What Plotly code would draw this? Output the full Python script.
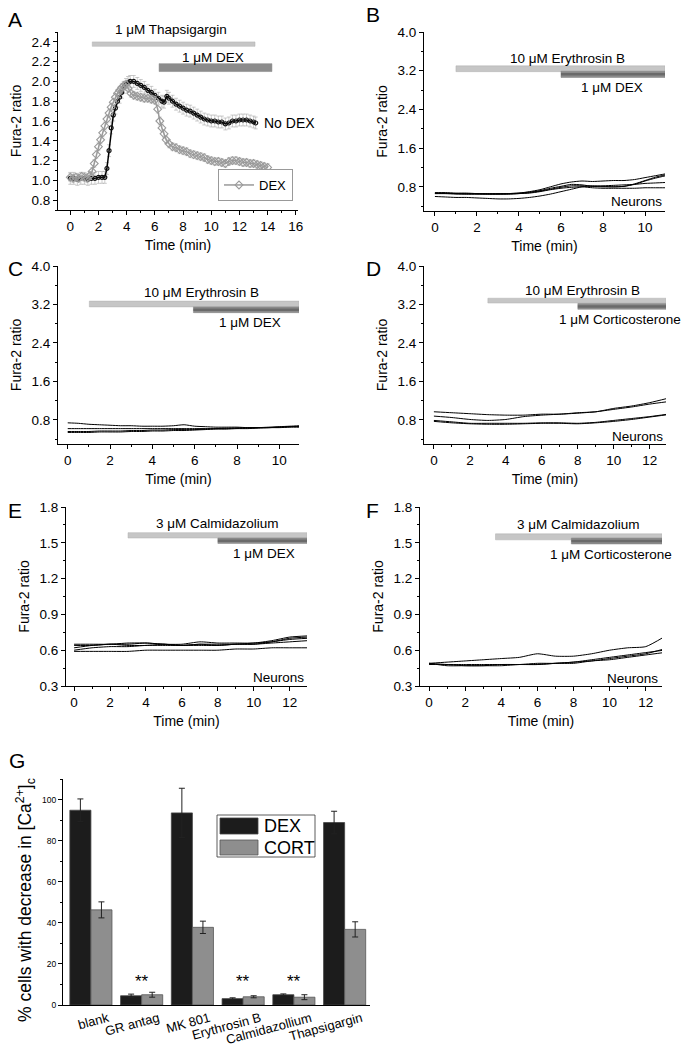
import plotly.graph_objects as go

W, H = 687, 1048
FONT = "Liberation Sans, Arial, sans-serif"

# ---------------- data ----------------
# Panel A
a_nodex_t = [0, 0.25, 0.5, 0.75, 1.0, 1.25, 1.5, 1.75, 2.0, 2.25, 2.45, 2.6, 2.75, 2.9, 3.05, 3.2, 3.35, 3.5, 3.65, 3.8,
             3.95, 4.1, 4.25, 4.5, 4.75, 5.0, 5.25, 5.5, 5.75, 6.0, 6.25, 6.5, 6.65, 6.85, 7.0, 7.25, 7.5, 7.75, 8.0, 8.25,
             8.5, 8.75, 9.0, 9.25, 9.5, 9.75, 10.0, 10.25, 10.5, 10.75, 11.0, 11.25, 11.5, 11.75, 12.0, 12.25, 12.5, 12.75, 13.0, 13.15]
a_nodex_v = [1.02, 1.02, 1.01, 1.02, 1.02, 1.01, 1.02, 1.02, 1.03, 1.03, 1.03, 1.12, 1.30, 1.53, 1.66, 1.73, 1.80, 1.84, 1.89, 1.94,
             1.97, 1.99, 2.00, 2.00, 1.98, 1.96, 1.94, 1.91, 1.89, 1.86, 1.83, 1.80, 1.79, 1.85, 1.83, 1.80, 1.77, 1.75, 1.73, 1.71,
             1.70, 1.68, 1.66, 1.64, 1.62, 1.61, 1.60, 1.60, 1.59, 1.59, 1.57, 1.58, 1.60, 1.60, 1.61, 1.61, 1.61, 1.60, 1.59, 1.58]
a_dex_t = [0, 0.2, 0.4, 0.6, 0.8, 1.0, 1.2, 1.4, 1.55, 1.7, 1.85, 2.0, 2.15, 2.3, 2.45, 2.6, 2.75, 2.9, 3.05, 3.2,
           3.35, 3.5, 3.65, 3.8, 3.95, 4.1, 4.3, 4.5, 4.75, 5.0, 5.25, 5.5, 5.75, 6.0, 6.2, 6.35, 6.5, 6.65, 6.8, 7.0,
           7.25, 7.5, 7.75, 8.0, 8.25, 8.5, 8.75, 9.0, 9.25, 9.5, 9.75, 10.0, 10.25, 10.5, 10.75, 11.0, 11.25, 11.5, 11.75, 12.0,
           12.25, 12.5, 12.75, 13.0, 13.25, 13.5, 13.75, 14.0]
a_dex_v = [1.03, 1.02, 1.03, 1.02, 1.04, 1.03, 1.02, 1.05, 1.09, 1.17, 1.26, 1.34, 1.41, 1.48, 1.55, 1.62, 1.68, 1.74, 1.79, 1.84,
           1.88, 1.91, 1.94, 1.96, 1.97, 1.93, 1.88, 1.86, 1.85, 1.84, 1.83, 1.83, 1.82, 1.81, 1.72, 1.60, 1.53, 1.47, 1.41, 1.37,
           1.34, 1.33, 1.31, 1.30, 1.29, 1.27, 1.26, 1.25, 1.24, 1.23, 1.21, 1.20, 1.19, 1.19, 1.18, 1.17, 1.19, 1.20, 1.20, 1.19,
           1.18, 1.18, 1.17, 1.17, 1.16, 1.15, 1.14, 1.13]
a_nodex_err = 0.06
a_dex_err = 0.04

# Panel B (neurons, Erythrosin B + DEX)
b_t = [0, 0.5, 1, 1.5, 2, 2.5, 3, 3.5, 4, 4.5, 5, 5.5, 6, 6.5, 7, 7.5, 8, 8.5, 9, 9.5, 10, 10.5, 11]
b_lines = [
    [0.68, 0.68, 0.67, 0.67, 0.66, 0.66, 0.66, 0.66, 0.67, 0.70, 0.74, 0.80, 0.86, 0.90, 0.92, 0.91, 0.92, 0.93, 0.93, 0.95, 0.99, 1.03, 1.07],
    [0.67, 0.67, 0.66, 0.66, 0.66, 0.65, 0.65, 0.66, 0.67, 0.69, 0.72, 0.77, 0.81, 0.85, 0.84, 0.81, 0.80, 0.80, 0.81, 0.86, 0.93, 1.00, 1.05],
    [0.66, 0.66, 0.66, 0.65, 0.65, 0.65, 0.65, 0.65, 0.66, 0.68, 0.71, 0.75, 0.79, 0.82, 0.82, 0.81, 0.82, 0.83, 0.84, 0.85, 0.87, 0.88, 0.89],
    [0.66, 0.66, 0.65, 0.65, 0.65, 0.65, 0.65, 0.65, 0.66, 0.67, 0.70, 0.74, 0.77, 0.79, 0.80, 0.78, 0.77, 0.77, 0.77, 0.77, 0.78, 0.78, 0.78],
    [0.60, 0.59, 0.58, 0.58, 0.57, 0.56, 0.55, 0.55, 0.56, 0.58, 0.61, 0.65, 0.70, 0.75, 0.80, 0.82, 0.81, 0.80, 0.81, 0.85, 0.92, 0.98, 1.03],
]

# Panel C (astrocytes)
c_t = b_t
c_lines = [
    [0.74, 0.73, 0.71, 0.70, 0.69, 0.68, 0.68, 0.67, 0.67, 0.67, 0.68, 0.70, 0.67, 0.66, 0.65, 0.65, 0.65, 0.64, 0.64, 0.64, 0.65, 0.66, 0.67],
    [0.62, 0.62, 0.62, 0.62, 0.62, 0.62, 0.62, 0.62, 0.62, 0.62, 0.62, 0.62, 0.62, 0.62, 0.62, 0.63, 0.63, 0.63, 0.64, 0.64, 0.65, 0.66, 0.66],
    [0.56, 0.56, 0.56, 0.57, 0.57, 0.57, 0.58, 0.58, 0.59, 0.59, 0.60, 0.60, 0.60, 0.61, 0.62, 0.62, 0.63, 0.64, 0.64, 0.65, 0.66, 0.67, 0.68],
    [0.54, 0.54, 0.54, 0.55, 0.55, 0.55, 0.56, 0.56, 0.57, 0.57, 0.58, 0.58, 0.59, 0.60, 0.61, 0.61, 0.62, 0.62, 0.63, 0.64, 0.64, 0.65, 0.65],
]

# Panel D (neurons, Erythrosin B + corticosterone)
d_t = [0, 1, 2, 3, 4, 5, 6, 7, 8, 9, 10, 11, 12, 13]
d_lines = [
    [0.97, 0.95, 0.93, 0.91, 0.90, 0.90, 0.92, 0.92, 0.95, 0.97, 1.04, 1.09, 1.16, 1.25],
    [0.88, 0.85, 0.81, 0.79, 0.81, 0.87, 0.90, 0.92, 0.94, 0.97, 1.02, 1.07, 1.13, 1.18],
    [0.79, 0.76, 0.73, 0.73, 0.73, 0.73, 0.74, 0.74, 0.73, 0.75, 0.79, 0.83, 0.87, 0.92],
    [0.77, 0.74, 0.72, 0.71, 0.71, 0.72, 0.73, 0.73, 0.72, 0.74, 0.77, 0.81, 0.86, 0.91],
]

# Panel E (neurons, calmidazolium + DEX)
e_t = d_t
e_lines = [
    [0.65, 0.65, 0.65, 0.66, 0.66, 0.65, 0.65, 0.67, 0.66, 0.66, 0.66, 0.68, 0.71, 0.72],
    [0.64, 0.64, 0.65, 0.65, 0.66, 0.65, 0.64, 0.65, 0.65, 0.65, 0.66, 0.67, 0.70, 0.71],
    [0.62, 0.64, 0.65, 0.64, 0.64, 0.65, 0.64, 0.65, 0.64, 0.65, 0.65, 0.67, 0.69, 0.70],
    [0.60, 0.62, 0.63, 0.63, 0.64, 0.64, 0.64, 0.64, 0.64, 0.65, 0.65, 0.66, 0.67, 0.68],
    [0.59, 0.59, 0.59, 0.59, 0.60, 0.60, 0.60, 0.60, 0.60, 0.61, 0.61, 0.62, 0.62, 0.62],
]

# Panel F (neurons, calmidazolium + corticosterone)
f_t = d_t
f_lines = [
    [0.49, 0.50, 0.51, 0.52, 0.53, 0.54, 0.57, 0.55, 0.55, 0.57, 0.60, 0.62, 0.63, 0.71],
    [0.49, 0.48, 0.48, 0.48, 0.48, 0.48, 0.49, 0.49, 0.50, 0.51, 0.53, 0.55, 0.57, 0.61],
    [0.48, 0.48, 0.47, 0.47, 0.48, 0.48, 0.48, 0.49, 0.50, 0.52, 0.54, 0.56, 0.58, 0.60],
    [0.49, 0.47, 0.47, 0.47, 0.47, 0.48, 0.48, 0.49, 0.49, 0.51, 0.52, 0.54, 0.56, 0.58],
]

# Panel G
g_categories = ["blank", "GR antag", "MK 801", "Erythrosin B", "Calmidazollium", "Thapsigargin"]
g_dex = [94.8, 4.5, 93.5, 3.1, 5.0, 88.8]
g_dex_err = [5.5, 0.8, 12.0, 0.4, 0.4, 5.5]
g_cort = [46.3, 5.0, 37.8, 4.0, 3.8, 36.8]
g_cort_err = [3.9, 1.2, 3.0, 0.5, 1.2, 3.7]
g_sig = ["GR antag", "Erythrosin B", "Calmidazollium"]

# ---------------- helpers ----------------
def dom_x(a, b):
    return [a / W, b / W]

def dom_y(top, bottom):
    return [1 - bottom / H, 1 - top / H]

def px(xp):
    return xp / W

def py(yp):
    return 1 - yp / H

TICK = 13.5
TITLE = 14

def axis(domain, rng, dtick, minor, anchor, title=None, standoff=6):
    d = dict(domain=domain, range=rng, dtick=dtick, showline=True, linecolor="black", linewidth=1,
             ticks="outside", ticklen=4, tickwidth=1, tickcolor="black", showgrid=False, zeroline=False,
             tickfont=dict(size=TICK, family=FONT, color="black"), anchor=anchor, fixedrange=True,
             automargin=False)
    if minor:
        d["minor"] = dict(dtick=minor, ticks="outside", ticklen=2, tickcolor="black", showgrid=False)
    if title:
        d["title"] = dict(text=title, font=dict(size=TITLE, family=FONT, color="black"), standoff=standoff)
    return d

fig = go.Figure()
shapes, annotations = [], []

def line_traces(t, lines, xa, ya):
    for ln in lines:
        fig.add_trace(go.Scatter(x=t, y=ln, mode="lines", line=dict(color="black", width=1, shape="spline", smoothing=0.6),
                                 xaxis=xa, yaxis=ya, showlegend=False, hoverinfo="skip"))

def drug_bars(xr, yr, light, dark, light_rng, dark_rng, core=True):
    shapes.append(dict(type="rect", xref=xr, yref=yr, x0=light[0], x1=light[1], y0=light_rng[0], y1=light_rng[1],
                       fillcolor="#c6c6c6", line=dict(color="#b0b0b0", width=0.5), layer="above"))
    shapes.append(dict(type="rect", xref=xr, yref=yr, x0=dark[0], x1=dark[1], y0=dark_rng[0], y1=dark_rng[1],
                       fillcolor="#8c8c8c", line=dict(color="#808080", width=0.5), layer="above"))
    if core:
        mid = (dark_rng[0] + dark_rng[1]) / 2
        shapes.append(dict(type="line", xref=xr, yref=yr, x0=dark[0], x1=dark[1], y0=mid, y1=mid,
                           line=dict(color="#6a6a6a", width=2.5), layer="above"))

def txt(xr, yr, x, y, text, xanchor="center", size=13.5, angle=0):
    annotations.append(dict(xref=xr, yref=yr, x=x, y=y, text=text, showarrow=False, xanchor=xanchor,
                            yanchor="middle", textangle=angle, font=dict(size=size, family=FONT, color="black")))

# ---------------- Panel A ----------------
fig.add_trace(go.Scatter(x=a_nodex_t, y=a_nodex_v, mode="lines+markers", name="No DEX",
                         line=dict(color="black", width=1.5),
                         marker=dict(symbol="circle-open", size=4, color="#111", line=dict(width=1.2)),
                         error_y=dict(type="constant", value=a_nodex_err, color="#a8a8a8", thickness=0.6, width=2),
                         xaxis="x", yaxis="y", showlegend=False, hoverinfo="skip"))
fig.add_trace(go.Scatter(x=a_dex_t, y=a_dex_v, mode="lines+markers", name="DEX",
                         line=dict(color="#9a9a9a", width=1.5),
                         marker=dict(symbol="diamond-open", size=6, color="#9a9a9a", line=dict(width=1.1)),
                         error_y=dict(type="constant", value=a_dex_err, color="#c4c4c4", thickness=0.6, width=2),
                         xaxis="x", yaxis="y", showlegend=True, hoverinfo="skip"))
drug_bars("x", "y", (1.56, 13.1), (6.3, 14.3), (2.355, 2.40), (2.10, 2.18), core=False)
txt("paper", "paper", px(171), py(30), "1 μM Thapsigargin")
txt("x", "y", 10.1, 2.245, "1 μM DEX")
txt("x", "y", 13.6, 1.58, "No DEX", xanchor="left", size=14)

# ---------------- Panels B-F ----------------
line_traces(b_t, b_lines, "x2", "y2")
drug_bars("x2", "y2", (1.0, 10.95), (6.0, 10.95), (3.18, 3.30), (3.06, 3.19))
txt("x2", "y2", 6.29, 3.46, "10 μM Erythrosin B")
txt("x2", "y2", 8.43, 2.86, "1 μM DEX")
txt("x2", "y2", 10.9, 0.49, "Neurons", xanchor="right")

line_traces(c_t, c_lines, "x3", "y3")
drug_bars("x3", "y3", (1.02, 10.93), (5.94, 10.93), (3.15, 3.27), (3.03, 3.15))
txt("x3", "y3", 6.34, 3.44, "10 μM Erythrosin B")
txt("x3", "y3", 8.62, 2.82, "1 μM DEX")
txt("x3", "y3", 10.95, 0.45, "Astrocytes", xanchor="right")

line_traces(d_t, d_lines, "x4", "y4")
drug_bars("x4", "y4", (3.0, 12.9), (8.0, 12.9), (3.23, 3.33), (3.10, 3.22))
txt("x4", "y4", 8.26, 3.49, "10 μM Erythrosin B")
txt("x4", "y4", 10.33, 2.89, "1 μM Corticosterone")
txt("x4", "y4", 12.85, 0.46, "Neurons", xanchor="right")

line_traces(e_t, e_lines, "x5", "y5")
drug_bars("x5", "y5", (3.0, 12.96), (8.0, 12.96), (1.54, 1.585), (1.495, 1.54))
txt("x5", "y5", 7.97, 1.66, "3 μM Calmidazolium")
txt("x5", "y5", 10.58, 1.41, "1 μM DEX")
txt("x5", "y5", 12.9, 0.37, "Neurons", xanchor="right")

line_traces(f_t, f_lines, "x6", "y6")
drug_bars("x6", "y6", (3.68, 12.9), (7.88, 12.9), (1.525, 1.575), (1.49, 1.54))
txt("x6", "y6", 8.25, 1.65, "3 μM Calmidazolium")
txt("x6", "y6", 10.09, 1.40, "1 μM Corticosterone")
txt("x6", "y6", 12.8, 0.36, "Neurons", xanchor="right")

# ---------------- Panel G ----------------
fig.add_trace(go.Bar(x=g_categories, y=g_dex, name="DEX", marker=dict(color="#1c1c1c", line=dict(color="#444", width=0.8)),
                     error_y=dict(type="data", array=g_dex_err, color="#222", thickness=1, width=3),
                     xaxis="x7", yaxis="y7", showlegend=False, hoverinfo="skip"))
fig.add_trace(go.Bar(x=g_categories, y=g_cort, name="CORT", marker=dict(color="#8e8e8e", line=dict(color="#555", width=0.8)),
                     error_y=dict(type="data", array=g_cort_err, color="#222", thickness=1, width=3),
                     xaxis="x7", yaxis="y7", showlegend=False, hoverinfo="skip"))
for c in g_sig:
    annotations.append(dict(xref="x7", yref="y7", x=c, y=11.5, text="**", showarrow=False, yanchor="middle",
                            font=dict(size=17, family=FONT, color="black")))
txt("paper", "paper", px(25), py(900), "% cells with decrease in [Ca<sup>2+</sup>]<sub>c</sub>", size=17.5, angle=-90)

# manual legend for G (paper coords)
shapes.append(dict(type="rect", xref="paper", yref="paper", x0=px(217), x1=px(315), y0=py(857), y1=py(815),
                   line=dict(color="#333", width=0.8), fillcolor="white"))
shapes.append(dict(type="rect", xref="paper", yref="paper", x0=px(220), x1=px(258), y0=py(834), y1=py(818),
                   line=dict(color="#444", width=0.8), fillcolor="#1c1c1c"))
shapes.append(dict(type="rect", xref="paper", yref="paper", x0=px(220), x1=px(258), y0=py(855), y1=py(840),
                   line=dict(color="#555", width=0.8), fillcolor="#8e8e8e"))
annotations.append(dict(xref="paper", yref="paper", x=px(262), y=py(826), text="DEX", showarrow=False, xanchor="left",
                        yanchor="middle", font=dict(size=18, family=FONT, color="black")))
annotations.append(dict(xref="paper", yref="paper", x=px(262), y=py(847.5), text="CORT", showarrow=False, xanchor="left",
                        yanchor="middle", font=dict(size=18, family=FONT, color="black")))

# panel letters
for letter, xp, yp in [("A", 6, 20), ("B", 364, 15), ("C", 6, 268), ("D", 364, 268), ("E", 6, 510), ("F", 364, 510), ("G", 7, 760)]:
    annotations.append(dict(xref="paper", yref="paper", x=px(xp), y=py(yp), text=letter, showarrow=False,
                            xanchor="left", yanchor="middle", font=dict(size=21, family=FONT, color="black")))

# ---------------- layout ----------------
lay = dict(
    template="none",
    width=W, height=H, margin=dict(l=0, r=0, t=0, b=0, pad=0, autoexpand=False),
    paper_bgcolor="white", plot_bgcolor="white",
    font=dict(family=FONT, color="black"), shapes=shapes, annotations=annotations,
    barmode="group", bargap=0.17, bargroupgap=0,
    legend=dict(x=px(218), y=py(169), xanchor="left", yanchor="top", bgcolor="white", bordercolor="#999",
                borderwidth=1, font=dict(size=13, family=FONT), itemwidth=30, tracegroupgap=0),
)
lay["xaxis"] = axis(dom_x(58, 298), [-0.87, 16.15], 2, 1, "y", "Time (min)")
lay["yaxis"] = axis(dom_y(32, 210), [0.7, 2.5], 0.2, 0.1, "x", "Fura-2 ratio")
lay["yaxis"]["tickformat"] = ".1f"
lay["xaxis2"] = axis(dom_x(424, 665), [-0.52, 10.95], 2, 1, "y2", "Time (min)")
lay["yaxis2"] = axis(dom_y(32, 211), [0.3, 4.0], 0.8, 0.4, "x2", "Fura-2 ratio")
lay["xaxis3"] = axis(dom_x(58, 299), [-0.46, 10.93], 2, 1, "y3", "Time (min)")
lay["yaxis3"] = axis(dom_y(266, 444), [0.3, 4.0], 0.8, 0.4, "x3", "Fura-2 ratio")
lay["xaxis4"] = axis(dom_x(424, 666), [-0.55, 12.9], 2, 1, "y4", "Time (min)")
lay["yaxis4"] = axis(dom_y(266, 444), [0.3, 4.0], 0.8, 0.4, "x4", "Fura-2 ratio")
lay["xaxis5"] = axis(dom_x(66, 307), [-0.45, 12.96], 2, 1, "y5", "Time (min)")
lay["yaxis5"] = axis(dom_y(507, 686), [0.3, 1.8], 0.3, 0.15, "x5", "Fura-2 ratio")
lay["xaxis6"] = axis(dom_x(420, 662), [-0.5, 12.9], 2, 1, "y6", "Time (min)")
lay["yaxis6"] = axis(dom_y(507, 686), [0.3, 1.8], 0.3, 0.15, "x6", "Fura-2 ratio")
for k in ["yaxis2", "yaxis3", "yaxis4", "yaxis5", "yaxis6"]:
    lay[k]["tickformat"] = ".1f"
    lay[k]["tick0"] = 0.0 if k in ("yaxis5", "yaxis6") else 0.8

lay["xaxis7"] = dict(domain=dom_x(63, 370), range=[-0.55, 5.5], type="category", showline=True, linecolor="black",
                     linewidth=1, ticks="", showgrid=False, zeroline=False, anchor="y7", tickangle=-15,
                     tickfont=dict(size=13, family=FONT, color="black"), ticklabelshift=17, fixedrange=True,
                     automargin=False)
lay["yaxis7"] = dict(domain=dom_y(779, 1005), range=[0, 110], dtick=20, showline=True, linecolor="black", linewidth=1,
                     ticks="outside", ticklen=4, tickcolor="black", showgrid=False, zeroline=False, anchor="x7",
                     minor=dict(dtick=10, ticks="outside", ticklen=2, tickcolor="black", showgrid=False),
                     tickfont=dict(size=8.5, family=FONT, color="black"), fixedrange=True, automargin=False)

fig.update_layout(**lay)
fig.write_html("out.html", config={"displayModeBar": False},
               post_script="document.body.style.margin='0px';")
